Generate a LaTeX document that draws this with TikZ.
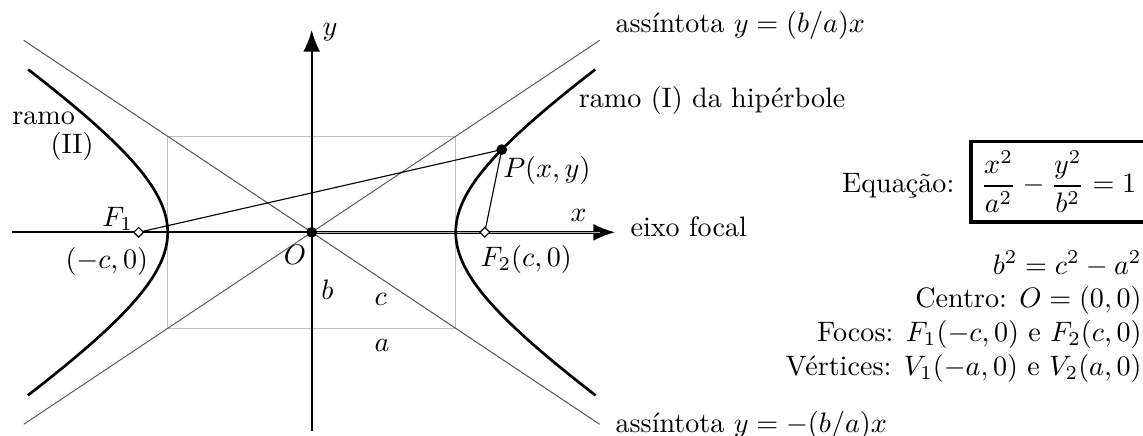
\documentclass[tikz,border=0pt]{standalone}
\usepackage{amsmath}
\usepackage{fontspec}
\usetikzlibrary{arrows.meta,shapes.geometric}
\begin{document}
\begin{tikzpicture}[x=0.6cm,y=0.6cm,
  lbl/.style={inner sep=0pt, anchor=base west},
  rlbl/.style={inner sep=0pt, anchor=base east},
  fact/.style={inner sep=0pt, anchor=base east},
  asym/.style={black!65, line width=0.35pt},
  boxline/.style={black!25, line width=0.4pt},
  branch/.style={line width=0.95pt},
  axisarrow/.style={-{Latex[length=7.7pt,width=6pt]}, line width=0.6pt},
  focal/.style={line width=0.36pt, double=black!30, double distance=0.47pt},
  foco/.style={diamond, draw, fill=white, inner sep=0pt, minimum size=3.6pt, line width=0.4pt},
  ponto/.style={circle, fill, inner sep=0pt, minimum size=3.8pt},
  eqbox/.style={draw, line width=1.2pt, inner sep=3.5pt, anchor=base west}
]
\useasboundingbox (-6.494,-4.223) rectangle (17.319,4.840);
% box a x b
\draw[boxline] (-3,-2) rectangle (3,2);
% asymptotes
\coordinate (A1) at (-6,-4); \coordinate (A2) at (6,4);
\coordinate (A3) at (-6,4);  \coordinate (A4) at (6,-4);
\draw[asym] (A1) -- (A2);
\draw[asym] (A3) -- (A4);
% axes
\coordinate (XL) at (-6.25,0); \coordinate (XR) at (6.32,0);
\coordinate (YB) at (0,-4.14);  \coordinate (YT) at (0,4.215);
\coordinate (o) at (0,0);
\coordinate (XF) at (6.0,0);
\draw[axisarrow] (XL) -- (XR);
\draw[focal] (o) -- (XF);
\draw[axisarrow] (YB) -- (YT);
% hyperbola branches
\draw[branch] plot[domain=-1.3:1.3, samples=80, variable=\t] ({3*cosh(\t)},{2*sinh(\t)});
\draw[branch] plot[domain=-1.3:1.3, samples=80, variable=\t] ({-3*cosh(\t)},{2*sinh(\t)});
% focal radii
\coordinate (f1) at (-3.6056,0);
\coordinate (f2) at (3.6056,0);
\coordinate (p) at ({3*cosh(0.78)},{2*sinh(0.78)});
\draw[line width=0.4pt] (f1) -- (p) -- (f2);
\node[foco] (F1) at (f1) {};
\node[foco] (F2) at (f2) {};
\node[ponto] (P) at (p) {};
\node[ponto] (O) at (o) {};
% labels
\node[lbl] (ly) at (0.215,4.09) {$y$};
\node[lbl] (las1) at (6.319,4.153) {assíntota $y=(b/a)x$};
\node[lbl] (lr1) at (5.554,2.590) {ramo (I) da hipérbole};
\node[lbl] (lr2a) at (-6.25,2.256) {ramo};
\node[lbl] (lr2b) at (-5.452,1.652) {(II)};
\node[lbl] (lP) at (3.979,1.152) {$P(x,y)$};
\node[lbl] (lx) at (5.381,0.225) {$x$};
\node[lbl] (lef) at (6.631,-0.092) {eixo focal};
\node[lbl] (lF1) at (-4.375,0.117) {$F_1$};
\node[lbl] (lF1c) at (-5.140,-0.744) {$(-c,0)$};
\node[lbl] (lO) at (-0.592,-0.681) {$O$};
\node[lbl] (lF2) at (3.506,-0.717) {$F_2(c,0)$};
\node[lbl] (lb) at (0.1875,-1.410) {$b$};
\node[lbl] (lc) at (1.298,-1.515) {$c$};
\node[lbl] (la) at (1.298,-2.488) {$a$};
\node[lbl] (las2) at (6.319,-4.181) {assíntota $y=-(b/a)x$};
% equation and facts
\node[rlbl] (leq) at (13.40,0.819) {Equação:};
\node[eqbox] (eq) at (13.70,0.819) {$\displaystyle\frac{x^2}{a^2}-\frac{y^2}{b^2}=1$};
\node[fact] (r1) at (17.3,-0.869) {$b^2=c^2-a^2$};
\node[fact] (r2) at (17.3,-1.571) {Centro: $O=(0,0)$};
\node[fact] (r3) at (17.3,-2.273) {Focos: $F_1(-c,0)$ e $F_2(c,0)$};
\node[fact] (r4) at (17.3,-2.975) {Vértices: $V_1(-a,0)$ e $V_2(a,0)$};
\end{tikzpicture}
\end{document}
